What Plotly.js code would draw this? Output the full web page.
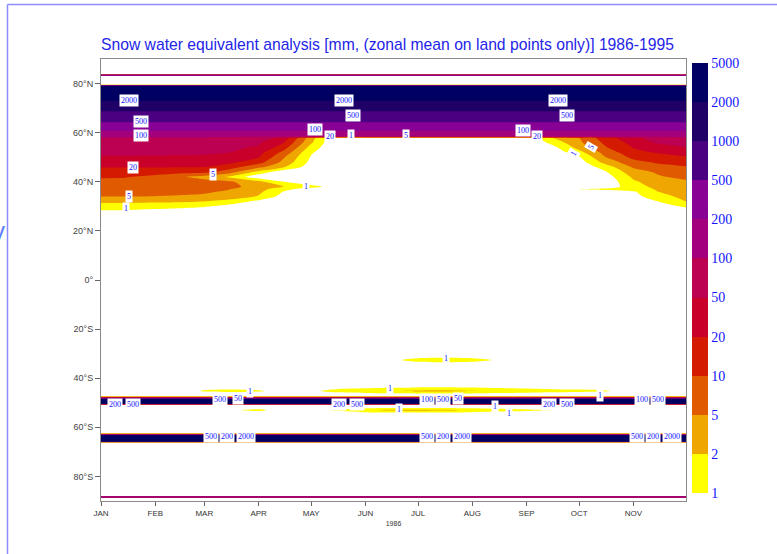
<!DOCTYPE html>
<html><head><meta charset="utf-8">
<script src="https://cdn.plot.ly/plotly-3.0.1.min.js"></script>
<style>html,body{margin:0;padding:0;background:#fff;}#chart{width:777px;height:554px;}</style>
</head><body><div id="chart"></div>
<script>
// time columns (half-monthly)
const dates = ['1986-01-01','1986-01-15','1986-02-01','1986-02-15','1986-03-01','1986-03-15','1986-04-01','1986-04-15',
  '1986-05-01','1986-05-15','1986-06-01','1986-06-15','1986-07-01','1986-07-15','1986-08-01','1986-08-15',
  '1986-09-01','1986-09-15','1986-10-01','1986-10-15','1986-11-01','1986-11-15','1986-12-01'];
// latitude rows (degrees, south to north)
const lats = [-90,-88.65,-88.5,-88.2,-88.05,-66.2,-65.7,-63.3,-62.4,-54.8,-53.0,-51.4,-50.8,-50.4,-48.6,-47.8,-47.2,-45.2,-42.5,
  -34.6,-32.6,-30.6,26,28,30,32,34,36,37,38,40,42,44,46,48,50,52,54,56,57.8,58.4,60.8,64.5,69,73.1,79.0,79.6,83.05,83.2,83.55,83.7,90];
// snow water equivalent [mm], one row per latitude
const swe = [
  [0,0,0,0,0,0,0,0,0,0,0,0,0,0,0,0,0,0,0,0,0,0,0],
  [0,0,0,0,0,0,0,0,0,0,0,0,0,0,0,0,0,0,0,0,0,0,0],
  [300,300,300,300,300,300,300,300,300,300,300,300,300,300,300,300,300,300,300,300,300,300,300],
  [300,300,300,300,300,300,300,300,300,300,300,300,300,300,300,300,300,300,300,300,300,300,300],
  [0,0,0,0,0,0,0,0,0,0,0,0,0,0,0,0,0,0,0,0,0,0,0],
  [0,0,0,0,0,0,0,0,0,0,0,0,0,0,0,0,0,0,0,0,0,0,0],
  [3000,3000,3000,3000,3000,3000,3000,3000,3000,3000,3000,3000,3000,3000,3000,3000,3000,3000,3000,3000,3000,3000,3000],
  [3000,3000,3000,3000,3000,3000,3000,3000,3000,3000,3000,3000,3000,3000,3000,3000,3000,3000,3000,3000,3000,3000,3000],
  [0,0,0,0,0,0,0,0,0,0,0,0,0,0,0,0,0,0,0,0,0,0,0],
  [0,0,0,0,0,0,0,0,0,0,0,0,0,0,0,0,0,0,0,0,0,0,0],
  [0,0,0,0,0,0.8,1.2,0.4,0.5,1.1,1.8,2.3,2.6,2.4,1.8,1.4,1.15,1.0,0.4,0,0,0,0],
  [0,0,0,0,0,0,0,0,0,0,0,0,0,0,0,0,0,0,0,0,0,0,0],
  [0,0,0,0,0,0,0,0,0,0,0,0,0,0,0,0,0,0,0,0,0,0,0],
  [3000,3000,3000,3000,3000,3000,3000,3000,3000,3000,3000,3000,3000,3000,3000,3000,3000,3000,3000,3000,3000,3000,3000],
  [3000,3000,3000,3000,3000,3000,3000,3000,3000,3000,3000,3000,3000,3000,3000,3000,3000,3000,3000,3000,3000,3000,3000],
  [40,40,40,40,40,40,40,40,40,40,40,40,40,40,40,40,40,40,40,40,40,40,40],
  [0,0,0,0,0,0,0,0,0,0,0,0,0,0,0,0,0,0,0,0,0,0,0],
  [0,0,0,0.5,1.1,1.2,1.1,0.6,0.8,1.3,1.6,1.9,2.4,2.6,2.1,1.7,1.5,1.3,1.2,1.1,0.5,0,0],
  [0,0,0,0,0,0,0,0,0,0,0,0,0,0,0,0,0,0,0,0,0,0,0],
  [0,0,0,0,0,0,0,0,0,0,0,0,0,0,0,0,0,0,0,0,0,0,0],
  [0,0,0,0,0,0,0,0,0,0,0,0.6,1.5,1.8,1.5,0.85,0,0,0,0,0,0,0],
  [0,0,0,0,0,0,0,0,0,0,0,0,0,0,0,0,0,0,0,0,0,0,0],
  [0,0,0,0,0,0,0,0,0,0,0,0,0,0,0,0,0,0,0,0,0,0,0],
  [0.85,0.8,0.6,0.4,0,0,0,0,0,0,0,0,0,0,0,0,0,0,0,0,0,0,0.5],
  [1.5,1.5,1.4,1.3,1.1,0.6,0,0,0,0,0,0,0,0,0,0,0,0,0,0,0,0.6,1.1],
  [2.4,2.4,2.3,2.2,2.0,1.6,0.7,0,0,0,0,0,0,0,0,0,0,0,0,0,0.2,1.0,2.0],
  [5.0,5.0,4.9,4.7,4.3,3.3,1.9,0.6,0,0,0,0,0,0,0,0,0,0,0,0,0.6,1.6,2.5],
  [6,6,6,5.8,5.5,4.5,2.5,1.0,0.2,0,0,0,0,0,0,0,0,0,0,0.4,0.9,2.0,3.0],
  [6.5,6.5,6.5,6.3,6.0,5.1,3.0,1.2,0.5,0.1,0,0,0,0,0,0,0,0.5,1.0,1.2,1.4,2.2,3.2],
  [7,7,7,6.8,6.4,5.8,3.8,2.1,1.3,0.5,0,0,0,0,0,0,0,0,0,0.3,1.5,2.6,3.6],
  [8,8,7.5,7,6.5,5.6,2.6,1.0,0.2,0,0,0,0,0,0,0,0,0,0,0.2,1.8,3.2,4.3],
  [10.8,10.5,8,5.5,3.5,1.8,0.3,0,0,0,0,0,0,0,0,0,0,0,0,0.4,2.4,4.5,6],
  [15,15,14,13,12,7,1.6,0.3,0,0,0,0,0,0,0,0,0,0,0,0.8,3.5,5.5,7],
  [21,21,21,20.5,20,14,6,2.2,0.4,0,0,0,0,0,0,0,0,0,0.2,1.3,5.5,8,9.5],
  [31,32,32,31,30,25,13,4,0.7,0,0,0,0,0,0,0,0,0,0.5,2.5,8,11,13],
  [46,47,47,47,46,40,21,5.5,0.9,0,0,0,0,0,0,0,0,0,0.9,4.5,12,15,19],
  [56,56,55,54,53,51,28,8.5,1.1,0,0,0,0,0,0,0,0,0.2,1.6,6,17,22,30],
  [65,65,64,63,62,55,46,14,1.5,0,0,0,0,0,0,0,0,0.6,2.8,9,21,35,47],
  [80,80,80,80,80,75,55,22,2.3,0,0,0,0,0,0,0,0,1.2,4.2,11,28,55,78],
  [92,92,92,92,92,88,70,40,3.0,0,0,0,0,0,0,0,0.3,1.9,5,14,40,70,88],
  [105,105,105,105,105,105,105,105,105,105,105,105,105,105,105,105,105,105,105,105,105,105,105],
  [210,210,210,210,210,210,210,210,210,210,210,210,210,210,210,210,210,210,210,210,210,210,210],
  [520,520,520,520,520,520,520,520,520,520,520,520,520,520,520,520,520,520,520,520,520,520,520],
  [1050,1050,1050,1050,1050,1050,1050,1050,1050,1050,1050,1050,1050,1050,1050,1050,1050,1050,1050,1050,1050,1050,1050],
  [2050,2050,2050,2050,2050,2050,2050,2050,2050,2050,2050,2050,2050,2050,2050,2050,2050,2050,2050,2050,2050,2050,2050],
  [4000,4000,4000,4000,4000,4000,4000,4000,4000,4000,4000,4000,4000,4000,4000,4000,4000,4000,4000,4000,4000,4000,4000],
  [0,0,0,0,0,0,0,0,0,0,0,0,0,0,0,0,0,0,0,0,0,0,0],
  [0,0,0,0,0,0,0,0,0,0,0,0,0,0,0,0,0,0,0,0,0,0,0],
  [300,300,300,300,300,300,300,300,300,300,300,300,300,300,300,300,300,300,300,300,300,300,300],
  [300,300,300,300,300,300,300,300,300,300,300,300,300,300,300,300,300,300,300,300,300,300,300],
  [0,0,0,0,0,0,0,0,0,0,0,0,0,0,0,0,0,0,0,0,0,0,0],
  [0,0,0,0,0,0,0,0,0,0,0,0,0,0,0,0,0,0,0,0,0,0,0]
];
// contour levels and colours
const levels = [1,2,5,10,20,50,100,200,500,1000,2000,5000];
const bandColors = ['#ffffff','#ffff00','#f0a600','#e05a00','#d41a00','#c8002a','#bc0052','#a2007c','#880094','#4a0080','#1e0066','#000062'];
// axis ticks
const monthTicks = ['1986-01-01','1986-02-01','1986-03-01','1986-04-01','1986-05-01','1986-06-01','1986-07-01','1986-08-01','1986-09-01','1986-10-01','1986-11-01'];
const monthLabels = ['JAN','FEB','MAR','APR','MAY','JUN','JUL','AUG','SEP','OCT','NOV'];
const latTicks = [-80,-60,-40,-20,0,20,40,60,80];
const latLabels = ['80°S','60°S','40°S','20°S','0°','20°N','40°N','60°N','80°N'];
// contour labels
const labelTexts = ['2000','2000','2000','500','500','500','100','20','5','1','5','1','100','20','1','5','100','20','5','1',
  '1','1','1','1','1','1','200','500','500','50','1','200','500','100','500','50','200','500','100','500',
  '500','200','2000','500','200','2000','500','200','2000'];
const labelDates = ['1986-01-17','1986-05-20','1986-09-19','1986-01-24','1986-05-25','1986-09-24','1986-01-24','1986-01-19','1986-01-17','1986-01-15',
  '1986-03-06','1986-04-28','1986-05-03','1986-05-12','1986-05-24','1986-06-24','1986-08-30','1986-09-07','1986-10-08','1986-09-28',
  '1986-07-17','1986-06-15','1986-10-13','1986-06-20','1986-08-14','1986-08-22','1986-01-09','1986-01-19','1986-03-10','1986-03-20','1986-03-27',
  '1986-05-17','1986-05-27','1986-07-06','1986-07-15','1986-07-24','1986-09-14','1986-09-24','1986-11-06','1986-11-15',
  '1986-03-05','1986-03-14','1986-03-25','1986-07-06','1986-07-15','1986-07-26','1986-11-03','1986-11-12','1986-11-23'];
const labelLats = [73.1,73.1,73.1,64.5,66.9,66.9,58.8,45.7,33.9,29.0,42.9,38.0,61.4,58.6,58.8,58.8,61.0,58.6,54.3,51.4,
  -31.8,-44.1,-46.9,-52.7,-51.6,-54.2,-50.6,-50.6,-48.6,-48.4,-45.6,-50.6,-50.6,-48.6,-48.6,-48.4,-50.6,-50.6,-48.6,-48.6,
  -63.6,-63.6,-63.6,-63.6,-63.6,-63.6,-63.6,-63.6,-63.6];
const labelAngles = [0,0,0,0,0,0,0,0,0,0,0,0,0,0,0,0,0,0,-60,-60,0,0,0,0,0,0,0,0,0,0,0,0,0,0,0,0,0,0,0,0,0,0,0,0,0,0,0,0,0];

// map a value onto contour-level index space (levels are not evenly spaced)
function levelIndex(v){
  if(v < levels[0]) return v - 1;
  for(let k=0;k<levels.length-1;k++){
    if(v < levels[k+1]) return k + Math.log(v/levels[k])/Math.log(levels[k+1]/levels[k]);
  }
  return levels.length-1;
}
const zIdx = swe.map(row => row.map(levelIndex));

const nb = bandColors.length - 1; // 11 bands in index space
const contourScale = bandColors.map((c,k)=>[k/nb, c]);
const barScale = [];
for(let k=0;k<nb;k++){ barScale.push([k/nb, bandColors[k+1]]); barScale.push([(k+1)/nb, bandColors[k+1]]); }

const L=101, R=686, T=59, B=501;
const px = x => (x-L)/(R-L), py = y => (B-y)/(B-T);

const traces = [
  {type:'contour', x:dates, y:lats, z:zIdx, autocontour:false,
   contours:{start:0, end:nb-1, size:1, coloring:'fill', showlines:false},
   line:{width:0, smoothing:0.7}, colorscale:contourScale, zmin:-0.5, zmax:nb-0.5,
   showscale:false, hoverinfo:'skip'},
  {type:'scatter', mode:'markers', x:[null], y:[null], hoverinfo:'skip', showlegend:false,
   marker:{color:[0], cmin:0, cmax:nb, colorscale:barScale, showscale:true,
     colorbar:{x:px(692), xanchor:'left', xpad:0, thickness:16, lenmode:'pixels', len:430,
       y:py(278), yanchor:'middle', ypad:0, outlinewidth:0, ticks:'', ticklen:0,
       tickmode:'array', tickvals:levels.map((_,i)=>i), ticktext:levels.map(String),
       tickfont:{family:'Liberation Serif', size:14, color:'#1414ff'}}}}
];

const annotations = labelTexts.map((t,i)=>({x:labelDates[i], y:labelLats[i], xref:'x', yref:'y', text:t, showarrow:false,
  textangle:labelAngles[i], font:{family:'Liberation Serif', size:8, color:'#1010ff'}, bgcolor:'#ffffff', borderpad:1}));
annotations.push({xref:'paper', yref:'paper', x:px(-9), y:py(231), text:'y', showarrow:false,
  font:{family:'Liberation Sans', size:24, color:'#5a7cff'}});

const layout = {
  width:777, height:554, margin:{l:L, r:777-R, t:T, b:554-B}, showlegend:false,
  paper_bgcolor:'#ffffff', plot_bgcolor:'#ffffff',
  title:{text:'Snow water equivalent analysis [mm, (zonal mean on land points only)] 1986-1995',
    font:{family:'Liberation Sans', size:15.7, color:'#2424e8'}, xref:'paper', x:0, xanchor:'left',
    yref:'container', y:1-45/554, yanchor:'middle'},
  xaxis:{type:'date', range:['1986-01-01','1986-12-01'], tickmode:'array', tickvals:monthTicks, ticktext:monthLabels,
    ticks:'outside', ticklen:4, tickcolor:'#666', tickfont:{family:'Liberation Sans', size:8, color:'#333'},
    showgrid:false, zeroline:false, showline:true, mirror:true, linecolor:'#8a8a8a', linewidth:1,
    title:{text:'1986', font:{family:'Liberation Sans', size:7, color:'#333'}, standoff:4}},
  yaxis:{range:[-90,90], tickmode:'array', tickvals:latTicks, ticktext:latLabels,
    ticks:'outside', ticklen:5, tickcolor:'#666', tickfont:{family:'Liberation Sans', size:9, color:'#444'},
    showgrid:false, zeroline:false, showline:true, mirror:true, linecolor:'#8a8a8a', linewidth:1},
  annotations:annotations,
  shapes:[
    {type:'line', xref:'paper', yref:'paper', x0:px(7.5), x1:px(7.5), y0:py(4.5), y1:py(560), line:{color:'#8c8cff', width:1.5}},
    {type:'line', xref:'paper', yref:'paper', x0:px(7.5), x1:px(780), y0:py(4.5), y1:py(4.5), line:{color:'#8c8cff', width:1.5}}
  ]
};
Plotly.newPlot('chart', traces, layout, {displayModeBar:false, staticPlot:true});
</script></body></html>
